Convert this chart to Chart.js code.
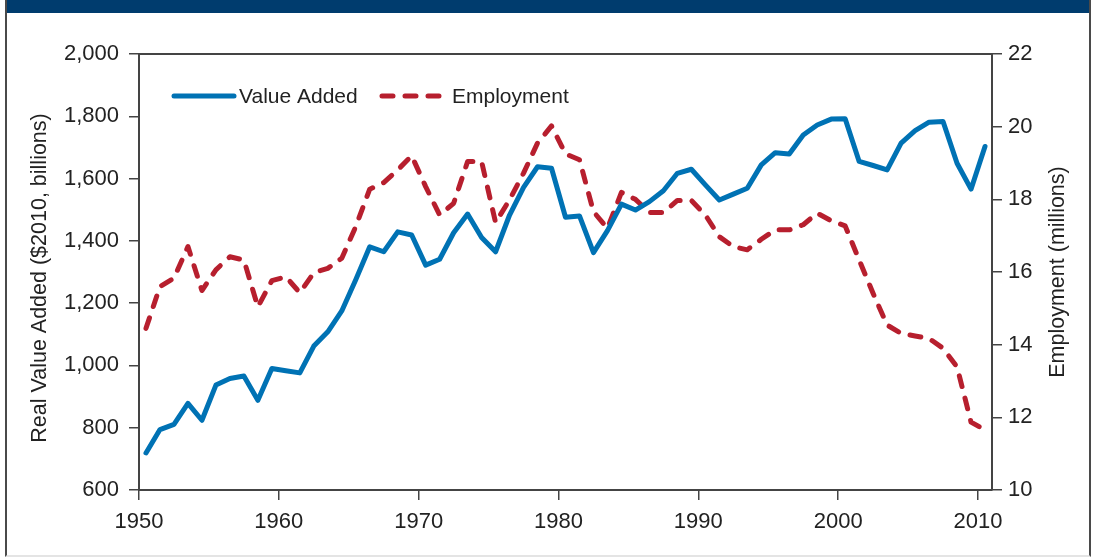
<!DOCTYPE html>
<html>
<head>
<meta charset="utf-8">
<title>Value Added and Employment</title>
<script src="https://cdn.jsdelivr.net/npm/chart.js@4.4.1/dist/chart.umd.min.js"></script>
<style>
  html, body { margin: 0; padding: 0; background: #fff; }
  #wrap  { position: relative; width: 1094px; height: 558px; overflow: hidden; }
  #frame { position: absolute; left: 5px; top: 0; width: 1082px; height: 555px;
           border-left: 2px solid #4a4a4a; border-right: 2px solid #4a4a4a; border-bottom: 2px solid #e4e4e4; }
  #bar   { position: absolute; left: 7px; top: 0; width: 1082px; height: 13px; background: #003c6e; }
  #chart { position: absolute; left: 0; top: 0; }
</style>
</head>
<body>
<div id="wrap">
  <div id="frame"></div>
  <div id="bar"></div>
  <canvas id="chart" width="1094" height="558"></canvas>
</div>
<script>
// ── Data ─────────────────────────────────────────────────────
const years = [
  1950, 1951, 1952, 1953, 1954, 1955, 1956, 1957, 1958, 1959,
  1960, 1961, 1962, 1963, 1964, 1965, 1966, 1967, 1968, 1969,
  1970, 1971, 1972, 1973, 1974, 1975, 1976, 1977, 1978, 1979,
  1980, 1981, 1982, 1983, 1984, 1985, 1986, 1987, 1988, 1989,
  1990, 1991, 1992, 1993, 1994, 1995, 1996, 1997, 1998, 1999,
  2000, 2001, 2002, 2003, 2004, 2005, 2006, 2007, 2008, 2009,
  2010
];

// real value added, $2010 billions
const valueAdded = [
   719,  794,  811,  878,  824,  937,  958,  966,  888,  990,
   983,  976, 1062, 1108, 1175, 1275, 1381, 1365, 1429, 1419,
  1322, 1341, 1426, 1486, 1411, 1365, 1483, 1572, 1638, 1633,
  1476, 1480, 1362, 1433, 1518, 1499, 1526, 1561, 1617, 1630,
  1580, 1531, 1550, 1569, 1644, 1683, 1679, 1740, 1772, 1791,
  1792, 1655, 1642, 1628, 1714, 1754, 1781, 1783, 1649, 1566,
  1703
];

// employment, millions
const employment = [
  14.45, 15.60, 15.83, 16.70, 15.49, 16.06, 16.42, 16.33, 15.04, 15.76,
  15.87, 15.43, 15.98, 16.10, 16.38, 17.25, 18.28, 18.46, 18.81, 19.20,
  18.35, 17.57, 17.89, 19.04, 19.04, 17.36, 17.99, 18.72, 19.55, 20.02,
  19.25, 19.09, 17.66, 17.20, 18.19, 18.00, 17.64, 17.64, 17.97, 17.97,
  17.57, 16.97, 16.70, 16.61, 16.90, 17.16, 17.16, 17.30, 17.62, 17.41,
  17.27, 16.33, 15.41, 14.54, 14.31, 14.24, 14.17, 13.90, 13.39, 11.87,
  11.65
];

const xTicks  = [1950, 1960, 1970, 1980, 1990, 2000, 2010];
const vaTicks = [600, 800, 1000, 1200, 1400, 1600, 1800, 2000];
const emTicks = [10, 12, 14, 16, 18, 20, 22];

const BLUE = '#0072b4';
const RED  = '#b71f2e';
const AXIS = '#444';
const TEXT = '#222';
const TICK_FONT  = { family: 'Liberation Sans', size: 22 };
const LABEL_FONT = '21px "Liberation Sans", Arial, sans-serif';
const TITLE_FONT = '21.5px "Liberation Sans", Arial, sans-serif';

// annual figures plotted at mid-year
const toPoints = vals => vals.map((v, i) => ({ x: years[i] + 0.5, y: v }));

// ── Frame, legend and axis titles ───────────────────────────
const decor = {
  id: 'decor',
  afterDraw(chart) {
    const { ctx, chartArea: a } = chart;
    ctx.save();
    // top edge of the plot box
    ctx.strokeStyle = AXIS;
    ctx.lineWidth = 2;
    ctx.beginPath();
    ctx.moveTo(a.left, a.top);
    ctx.lineTo(a.right, a.top);
    ctx.stroke();

    // legend
    ctx.font = LABEL_FONT;
    ctx.fillStyle = TEXT;
    ctx.textBaseline = 'middle';
    const ly = 96;
    chart.data.datasets.forEach((ds, i) => {
      const x0 = i === 0 ? 174 : 382;
      ctx.strokeStyle = ds.borderColor;
      ctx.lineWidth = ds.borderWidth;
      ctx.lineCap = 'round';
      ctx.setLineDash(ds.borderDash || []);
      ctx.beginPath();
      ctx.moveTo(x0, ly);
      ctx.lineTo(x0 + 60, ly);
      ctx.stroke();
      ctx.setLineDash([]);
      ctx.fillText(ds.label, x0 + (i === 0 ? 65 : 70), ly + 1);
    });

    // axis titles, both reading bottom-to-top
    ctx.font = TITLE_FONT;
    ctx.textAlign = 'center';
    [[40, 278, 'Real Value Added ($2010, billions)'],
     [1058, 272, 'Employment (millions)']].forEach(([x, y, t]) => {
      ctx.save();
      ctx.translate(x, y);
      ctx.rotate(-Math.PI / 2);
      ctx.fillText(t, 0, 0);
      ctx.restore();
    });
    ctx.restore();
  }
};

const fixedTicks = list => axis => { axis.ticks = list.map(v => ({ value: v })); };

new Chart(document.getElementById('chart'), {
  type: 'line',
  data: {
    datasets: [
      { label: 'Value Added', data: toPoints(valueAdded), yAxisID: 'y',
        borderColor: BLUE, borderWidth: 5, pointRadius: 0, tension: 0,
        borderJoinStyle: 'round', borderCapStyle: 'round' },
      { label: 'Employment', data: toPoints(employment), yAxisID: 'y1',
        borderColor: RED, borderWidth: 5, pointRadius: 0, tension: 0,
        borderDash: [11, 12], borderJoinStyle: 'round', borderCapStyle: 'round' },
    ]
  },
  options: {
    responsive: false,
    animation: false,
    devicePixelRatio: 1,
    layout: { padding: { top: 54, left: 0, right: 0, bottom: 0 } },
    plugins: { legend: { display: false }, tooltip: { enabled: false } },
    scales: {
      x: {
        type: 'linear', min: 1950, max: 2011,
        afterBuildTicks: fixedTicks(xTicks),
        afterFit: s => { s.height = 68; },
        ticks: { color: TEXT, font: TICK_FONT, padding: 9, maxRotation: 0, callback: v => String(v) },
        grid: { drawOnChartArea: false, tickLength: 10, color: AXIS, lineWidth: 1.5 },
        border: { color: AXIS, width: 2 },
      },
      y: {
        position: 'left', min: 600, max: 2000,
        afterBuildTicks: fixedTicks(vaTicks),
        afterFit: s => { s.width = 139; },
        ticks: { color: TEXT, font: TICK_FONT, padding: 10, callback: v => v.toLocaleString('en-US') },
        grid: { drawOnChartArea: false, tickLength: 10, color: AXIS, lineWidth: 1.5 },
        border: { color: AXIS, width: 2 },
      },
      y1: {
        position: 'right', min: 10, max: 22,
        afterBuildTicks: fixedTicks(emTicks),
        afterFit: s => { s.width = 102; },
        ticks: { color: TEXT, font: TICK_FONT, padding: 6, callback: v => String(v) },
        grid: { drawOnChartArea: false, tickLength: 10, color: AXIS, lineWidth: 1.5 },
        border: { color: AXIS, width: 2 },
      },
    }
  },
  plugins: [decor]
});
</script>
</body>
</html>
